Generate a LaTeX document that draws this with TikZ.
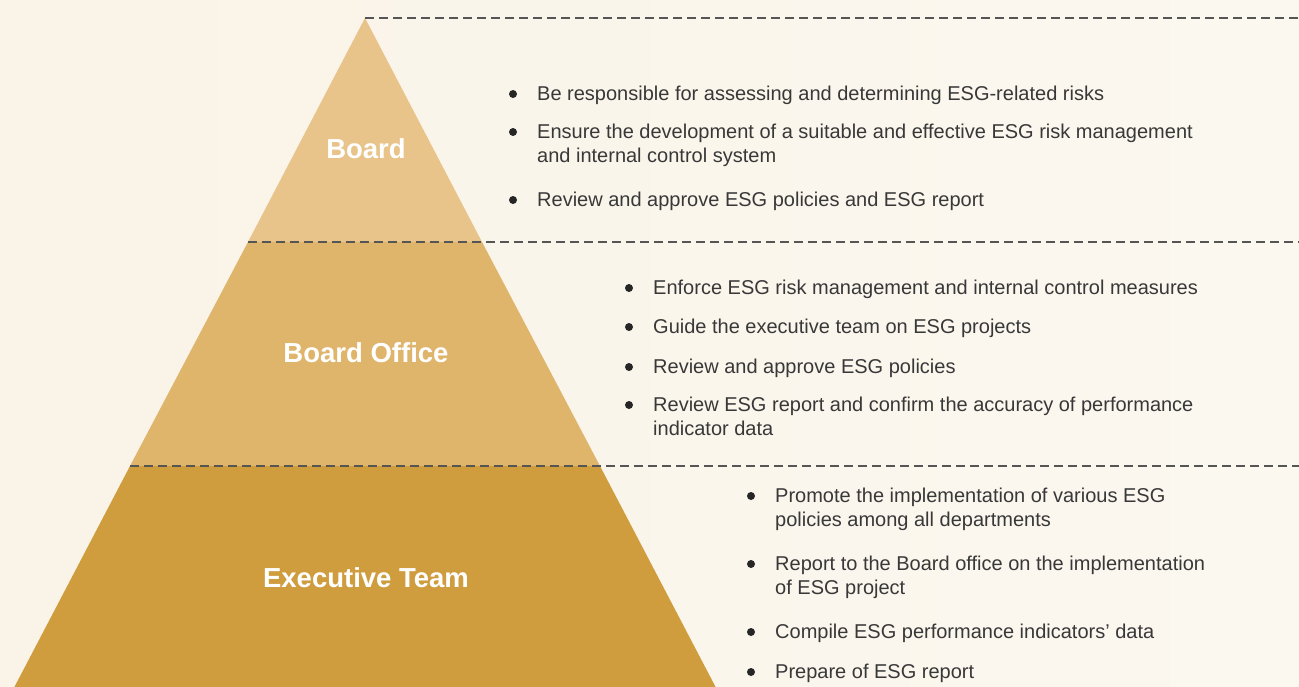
\documentclass[tikz,border=0pt]{standalone}
\usepackage{fontspec}
\setmainfont{Liberation Sans}
\definecolor{bgcol}{HTML}{FBF8F0}
\definecolor{bgleft}{HTML}{FAF3E7}
\definecolor{tierA}{HTML}{E8C48A}
\definecolor{tierB}{HTML}{DFB46B}
\definecolor{tierC}{HTML}{CF9D3E}
\definecolor{dashcol}{HTML}{555555}
\definecolor{txtcol}{HTML}{383838}
\tikzset{
  item/.style={anchor=base west, inner sep=0pt, text=txtcol, font=\fontsize{20}{24}\selectfont, align=left},
  tierlabel/.style={anchor=base, inner sep=0pt, text=white, font=\fontsize{27.5}{32}\selectfont\bfseries},
  sep/.style={draw=dashcol, line width=1.3pt, dash pattern=on 9pt off 5pt},
  dot/.style={circle, fill=black!85, inner sep=0pt, minimum size=8pt}
}
\begin{document}
\begin{tikzpicture}[x=1pt,y=-1pt]
\shade[left color=bgleft, right color=bgcol] (0,0) rectangle (1299,686);
\useasboundingbox (0,0) rectangle (1299,686);
% pyramid geometry
\coordinate (apex) at (365,18);
\coordinate (l1) at (248,242);
\coordinate (r1) at (482,242);
\coordinate (l2) at (130,466);
\coordinate (r2) at (600,466);
\coordinate (l3) at (-6,726);
\coordinate (r3) at (736,726);
\coordinate (e0) at (1299,18);
\coordinate (e1) at (1299,242);
\coordinate (e2) at (1299,466);
\begin{scope}
\clip (0,0) rectangle (1299,686);
\fill[tierA] (apex) -- (r1) -- (l1) -- cycle;
\fill[tierB] (l1) -- (r1) -- (r2) -- (l2) -- cycle;
\fill[tierC] (l2) -- (r2) -- (r3) -- (l3) -- cycle;
\end{scope}
\draw[sep] (apex) -- (e0);
\draw[sep] (l1) -- (e1);
\draw[sep] (l2) -- (e2);
% tier labels
\node[tierlabel] (tBoard) at (366,158) {Board};
\node[tierlabel] (tOffice) at (366,362) {Board Office};
\node[tierlabel] (tExec) at (366,587) {Executive Team};
% set 1
\node[dot] (d11) at (513,94) {};
\node[item] (i11) at (537,100) {Be responsible for assessing and determining ESG-related risks};
\node[dot] (d12) at (513,132) {};
\node[item] (i12) at (537,162) {Ensure the development of a suitable and effective ESG risk management\\and internal control system};
\node[dot] (d13) at (513,200) {};
\node[item] (i13) at (537,206) {Review and approve ESG policies and ESG report};
% set 2
\node[dot] (d21) at (629,288) {};
\node[item] (i21) at (653,294) {Enforce ESG risk management and internal control measures};
\node[dot] (d22) at (629,327) {};
\node[item] (i22) at (653,333) {Guide the executive team on ESG projects};
\node[dot] (d23) at (629,367) {};
\node[item] (i23) at (653,373) {Review and approve ESG policies};
\node[dot] (d24) at (629,405) {};
\node[item] (i24) at (653,435) {Review ESG report and confirm the accuracy of performance\\indicator data};
% set 3
\node[dot] (d31) at (751,496) {};
\node[item] (i31) at (775,526) {Promote the implementation of various ESG\\policies among all departments};
\node[dot] (d32) at (751,564) {};
\node[item] (i32) at (775,594) {Report to the Board office on the implementation\\of ESG project};
\node[dot] (d33) at (751,632) {};
\node[item] (i33) at (775,638) {Compile ESG performance indicators’ data};
\node[dot] (d34) at (751,672) {};
\node[item] (i34) at (775,678) {Prepare of ESG report};
\end{tikzpicture}
\end{document}
